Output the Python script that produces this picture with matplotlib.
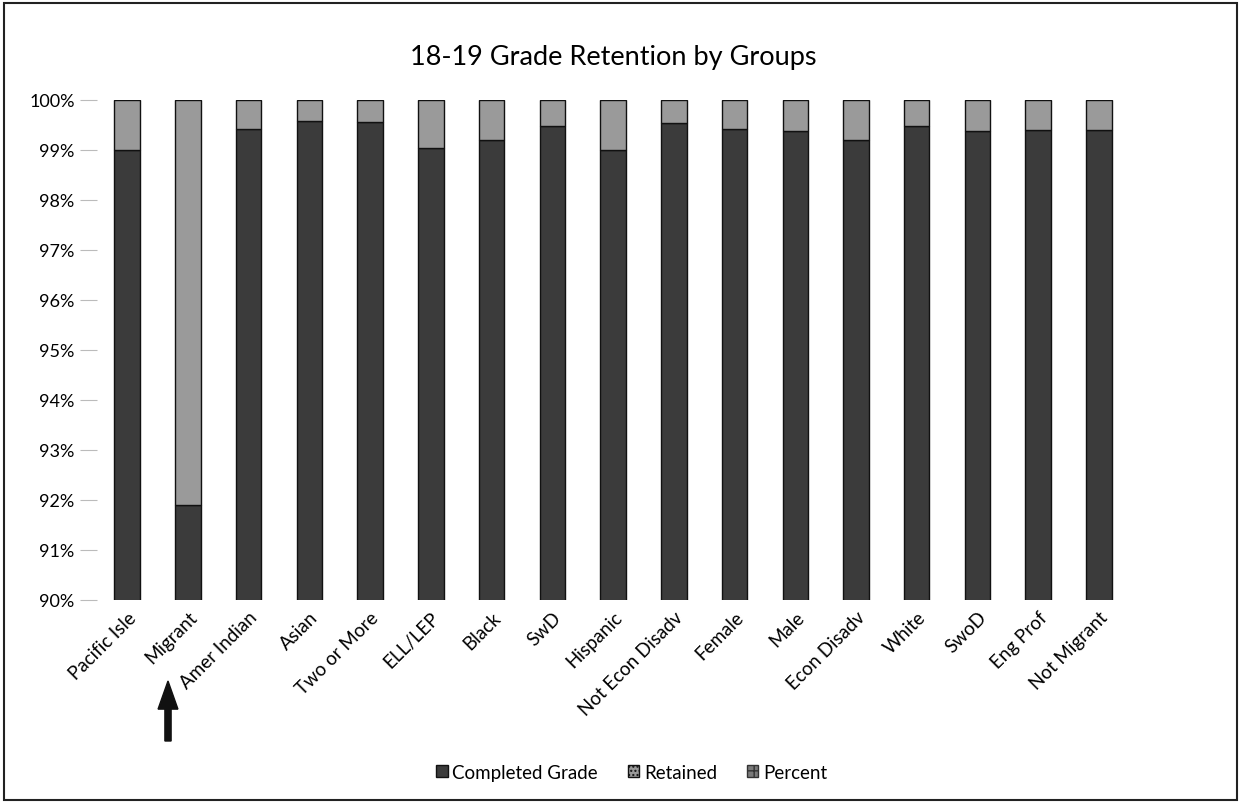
import matplotlib

matplotlib.use("Agg")

import matplotlib.pyplot as plt
import numpy as np
from matplotlib.patches import FancyArrow, Patch, Rectangle

plt.rcParams["font.family"] = ["Lato", "DejaVu Sans"]

GROUPS = [
    "Pacific Isle", "Migrant", "Amer Indian", "Asian", "Two or More", "ELL/LEP",
    "Black", "SwD", "Hispanic", "Not Econ Disadv", "Female", "Male",
    "Econ Disadv", "White", "SwoD", "Eng Prof", "Not Migrant",
]
COMPLETED = [99.00, 91.90, 99.42, 99.57, 99.55, 99.03, 99.19, 99.47, 98.99,
             99.54, 99.41, 99.37, 99.19, 99.48, 99.37, 99.40, 99.40]
RETAINED = [1.00, 8.10, 0.58, 0.43, 0.45, 0.97, 0.81, 0.53, 1.01,
            0.46, 0.59, 0.63, 0.81, 0.52, 0.63, 0.60, 0.60]
PERCENT = [0.0] * len(GROUPS)
Y_TICKS = [90, 91, 92, 93, 94, 95, 96, 97, 98, 99, 100]

DARK = "#3b3b3b"
LIGHT = "#9a9a9a"
MID = "#7a7a7a"

fig = plt.figure(figsize=(12.41, 8.03), dpi=100)
ax = fig.add_axes([0.078, 0.2516, 0.832, 0.6227])

x = np.arange(len(GROUPS))
completed = np.array(COMPLETED)
retained = np.array(RETAINED)
width = 0.42
ax.bar(x, completed, width, color=DARK, edgecolor="#111111", linewidth=1.0, zorder=2)
ax.bar(x, retained, width, bottom=completed, color=LIGHT, edgecolor="#111111",
       linewidth=1.0, zorder=2)
ax.bar(x, PERCENT, width, bottom=completed + retained, color=MID, zorder=2)

ax.set_xlim(-0.5, len(GROUPS) - 0.5)
ax.set_ylim(90, 100)
ax.set_yticks(Y_TICKS)
ax.set_yticklabels([f"{t}%" for t in Y_TICKS], fontsize=13)
ax.set_xticks(x)
ax.set_xticklabels(GROUPS, rotation=45, ha="right", rotation_mode="anchor", fontsize=13.5)
ax.tick_params(axis="y", length=12, color="#bbbbbb", width=0.8, pad=4)
ax.tick_params(axis="x", length=0, pad=6)
for side in ["top", "right", "bottom", "left"]:
    ax.spines[side].set_visible(False)

ax.set_title("18-19 Grade Retention by Groups", fontsize=19.5, pad=26)

handles = [
    Patch(facecolor=DARK, edgecolor="#111111", label="Completed Grade"),
    Patch(facecolor=LIGHT, edgecolor="#111111", hatch="....", label="Retained"),
    Patch(facecolor=MID, edgecolor="#333333", hatch="++", label="Percent"),
]
fig.legend(handles=handles, loc="center", bbox_to_anchor=(0.509, 0.037), ncol=3,
           frameon=False, fontsize=13.5, handlelength=0.6, handleheight=0.6,
           handletextpad=0.25, columnspacing=1.6)

# hand-drawn arrow pointing at Migrant
fig.patches.append(FancyArrow(
    168 / 1241, 1 - 742 / 803, 0, (742 - 682) / 803, width=0.005,
    head_width=0.016, head_length=0.035, length_includes_head=True,
    color="#111111", transform=fig.transFigure, figure=fig))

# chart border
fig.patches.append(Rectangle((0.003, 0.003), 0.994, 0.992, transform=fig.transFigure,
                             fill=False, edgecolor="#222222", linewidth=1.5, figure=fig))

fig.savefig("out.png", dpi=100, facecolor="white")
